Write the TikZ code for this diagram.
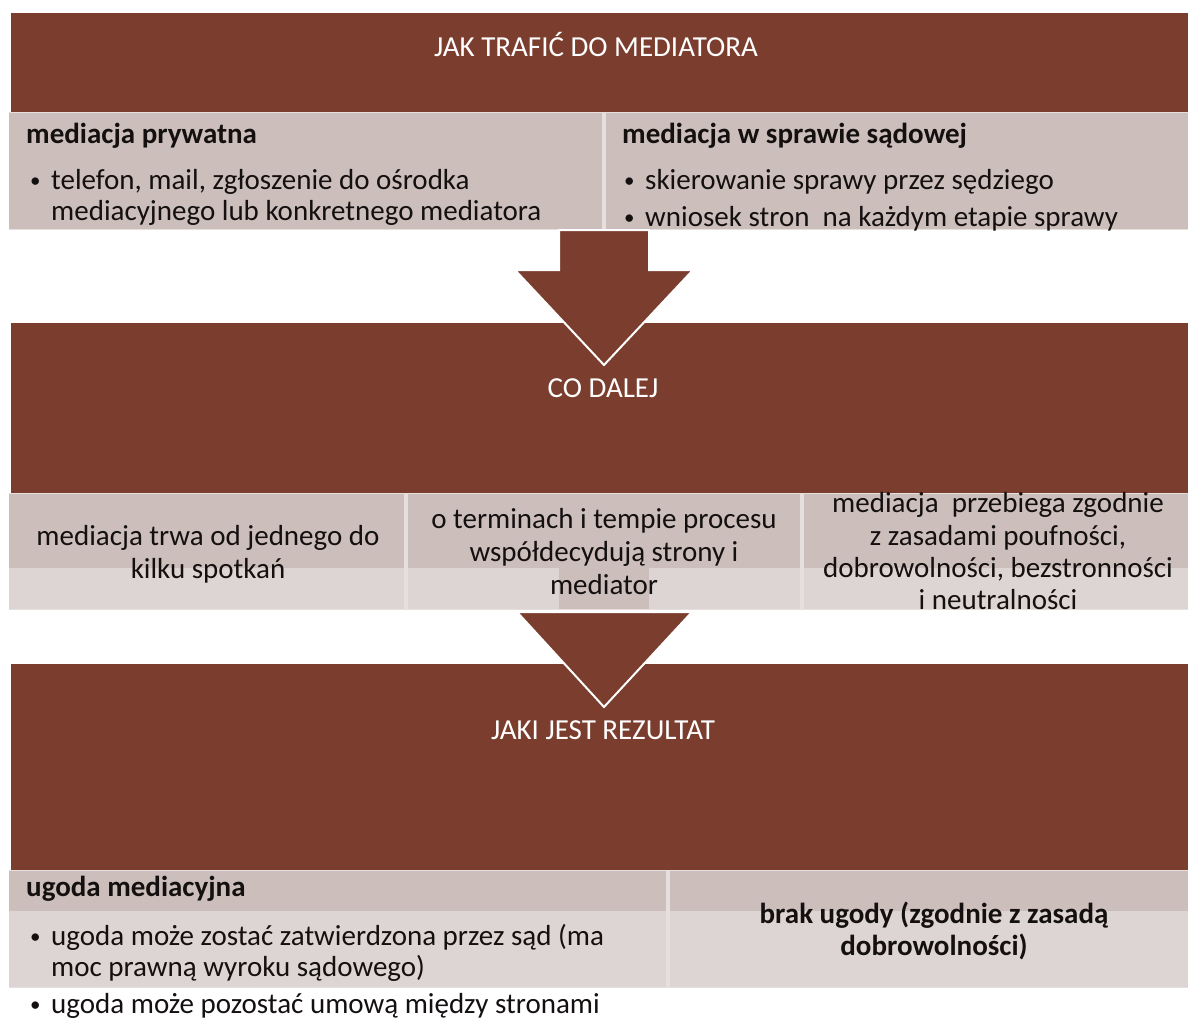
\documentclass[tikz,border=0pt]{standalone}
\usepackage{fontspec}
\setmainfont{Carlito}
\definecolor{brn}{RGB}{123,62,46}
\definecolor{celldark}{RGB}{204,190,187}
\definecolor{celllight}{RGB}{221,213,211}
\definecolor{celledge}{RGB}{230,223,221}
\definecolor{ink}{RGB}{20,16,16}
\newcommand{\mybul}[1]{\makebox[#1][l]{\raisebox{1.5pt}{\fontsize{21}{21}\selectfont •}}}
\begin{document}
\begin{tikzpicture}[x=1pt,y=-1pt,
  band/.style={fill=brn},
  dark/.style={fill=celldark},
  light/.style={fill=celllight},
  edge/.style={fill=celledge},
  blockarrow/.style={fill=brn,draw=white,line width=2pt,line join=miter},
  ttl/.style={text=white,font=\fontsize{29}{32}\selectfont,anchor=base,inner sep=0pt},
  ln/.style={text=ink,font=\fontsize{29}{29}\selectfont,anchor=base west,inner sep=0pt},
  cln/.style={text=ink,font=\fontsize{29}{29}\selectfont,anchor=base,inner sep=0pt},
  bul/.style={text=ink,font=\fontsize{29}{29}\selectfont,anchor=base west,inner sep=0pt}
]
\useasboundingbox (0,0) rectangle (1188,1021);
\fill[white] (0,0) rectangle (1188,1021);

% ---------- bands ----------
\fill[band] (11,13) rectangle (1188,112);
\fill[band] (11,323) rectangle (1188,493);
\fill[band] (11,664) rectangle (1188,870);

% ---------- row 1 cells ----------
\fill[edge] (9,112) rectangle (1188,230);
\fill[dark] (9,113) rectangle (602,229);
\fill[dark] (606,113) rectangle (1188,229);

% ---------- row 2 cells ----------
\fill[edge] (9,493) rectangle (1188,610);
\fill[dark] (9,494) rectangle (404,568);
\fill[light] (9,568) rectangle (404,609);
\fill[dark] (408,494) rectangle (800,568);
\fill[light] (408,568) rectangle (800,609);
\fill[dark] (804,494) rectangle (1188,568);
\fill[light] (804,568) rectangle (1188,609);
\fill[dark] (559,568) rectangle (649,609);

% ---------- row 3 cells ----------
\fill[edge] (9,870) rectangle (1188,988);
\fill[dark] (9,871) rectangle (666,911);
\fill[light] (9,911) rectangle (666,987);
\fill[dark] (670,871) rectangle (1188,911);
\fill[light] (670,911) rectangle (1188,987);

% ---------- block arrows ----------
\coordinate (a1tip) at (604,365);
\draw[blockarrow] (559,230) -- (649,230) -- (649,270) -- (693,270) -- (a1tip) -- (515,270) -- (559,270) -- cycle;
\coordinate (a2tip) at (604,707);
\draw[blockarrow] (517,612) -- (692,612) -- (a2tip) -- cycle;

% ---------- titles ----------
\node[ttl] (t1) at (596,56) {JAK TRAFIĆ DO MEDIATORA};
\node[ttl] (t2) at (603,397) {CO DALEJ};
\node[ttl] (t3) at (603,739) {JAKI JEST REZULTAT};

% ---------- row 1 text ----------
\node[ln] (h1) at (26,143) {\textbf{mediacja prywatna}};
\node[bul] (b1a) at (30,189) {\mybul{21pt}telefon, mail, zgłoszenie do ośrodka};
\node[ln] (b1b) at (51,220) {mediacyjnego lub konkretnego mediatora};

\node[ln] (h2) at (622,143) {\textbf{mediacja w sprawie sądowej}};
\node[bul] (b2a) at (624,189) {\mybul{21pt}skierowanie sprawy przez sędziego};
\node[bul] (b2b) at (624,226) {\mybul{21pt}wniosek stron\ \ na każdym etapie sprawy};

% ---------- row 2 text ----------
\node[cln] (c1a) at (208,545) {mediacja trwa od jednego do};
\node[cln] (c1b) at (208,578) {kilku spotkań};
\node[cln] (c2a) at (604,528) {o terminach i tempie procesu};
\node[cln] (c2b) at (604,561) {współdecydują strony i};
\node[cln] (c2c) at (604,594) {mediator};
\node[cln] (c3a) at (998,512) {mediacja\ \ przebiega zgodnie};
\node[cln] (c3b) at (998,545) {z zasadami poufności,};
\node[cln] (c3c) at (998,577) {dobrowolności, bezstronności};
\node[cln] (c3d) at (998,609) {i neutralności};

% ---------- row 3 text ----------
\node[ln] (h3) at (26,896) {\textbf{ugoda mediacyjna}};
\node[bul] (b3a) at (30,945) {\mybul{21pt}ugoda może zostać zatwierdzona przez sąd (ma};
\node[ln] (b3b) at (51,976) {moc prawną wyroku sądowego)};
\node[bul] (b3c) at (30,1013) {\mybul{21pt}ugoda może pozostać umową między stronami};

\node[cln] (r1) at (934,923) {\textbf{brak ugody (zgodnie z zasadą}};
\node[cln] (r2) at (934,955) {\textbf{dobrowolności)}};
\end{tikzpicture}
\end{document}
